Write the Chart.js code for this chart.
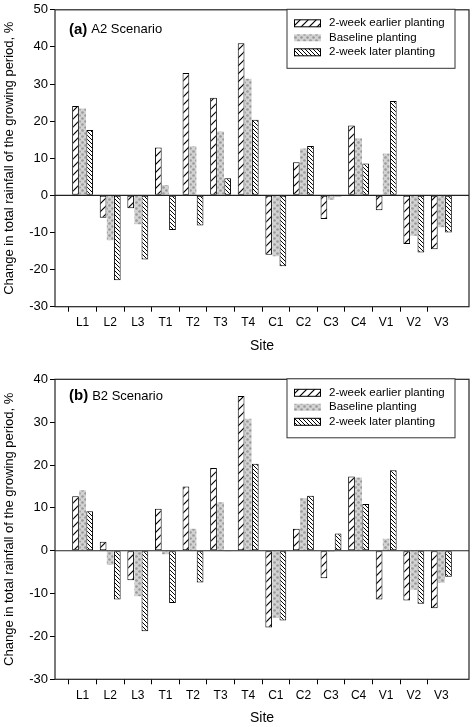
<!DOCTYPE html>
<html>
<head>
<meta charset="utf-8">
<script src="https://cdn.jsdelivr.net/npm/chart.js@4.4.1/dist/chart.umd.min.js"></script>
<style>
  body { margin: 0; background: #fff; }
  .wrap { position: absolute; left: 0; width: 473px; }
  #wrapA { top: 0; height: 360px; }
  #wrapB { top: 360px; height: 367px; }
</style>
</head>
<body>
<div class="wrap" id="wrapA"><canvas id="chartA" width="473" height="360"></canvas></div>
<div class="wrap" id="wrapB"><canvas id="chartB" width="473" height="367"></canvas></div>
<script>
"use strict";

// Data
const sites = ["L1", "L2", "L3", "T1", "T2", "T3", "T4", "C1", "C2", "C3", "C4", "V1", "V2", "V3"];
const seriesNames = ["2-week earlier planting", "Baseline planting", "2-week later planting"];

// (a) A2 scenario
const a2Earlier  = [24.1, -6.0, -3.5, 12.9, 33.0, 26.3, 41.0, -16.0, 8.9, -6.4, 18.8, -4.0, -13.1, -14.5];
const a2Baseline = [23.4, -12.1, -7.8, 2.8, 13.2, 17.2, 31.4, -16.4, 12.6, -1.2, 15.4, 11.3, -10.9, -8.6];
const a2Later    = [17.6, -22.9, -17.3, -9.3, -8.1, 4.6, 20.4, -19.1, 13.3, -0.3, 8.6, 25.4, -15.4, -10.0];

// (b) B2 scenario
const b2Earlier  = [12.7, 2.1, -6.9, 9.8, 15.0, 19.3, 36.1, -17.9, 5.1, -6.4, 17.3, -11.4, -11.6, -13.4];
const b2Baseline = [14.1, -3.3, -10.6, -0.8, 5.1, 11.3, 30.8, -15.7, 12.3, -0.3, 17.1, 2.8, -9.1, -7.5];
const b2Later    = [9.2, -11.4, -18.8, -12.2, -7.4, -0.2, 20.3, -16.3, 12.8, 4.0, 10.9, 18.8, -12.4, -6.1];

const yRangeA = [-30, 50];
const yRangeB = [-30, 40];

const FONT = "'Liberation Sans', Arial, sans-serif";

// Fill patterns
function hatch(size, forward, lw) {
    const c = document.createElement("canvas");
    c.width = size; c.height = size;
    const g = c.getContext("2d");
    g.fillStyle = "#fff";
    g.fillRect(0, 0, size, size);
    g.strokeStyle = "#000";
    g.lineWidth = lw;
    g.beginPath();
    if (forward) {
        g.moveTo(-1, size + 1); g.lineTo(size + 1, -1);
        g.moveTo(-1, 1); g.lineTo(1, -1);
        g.moveTo(size - 1, size + 1); g.lineTo(size + 1, size - 1);
    } else {
        g.moveTo(-1, -1); g.lineTo(size + 1, size + 1);
        g.moveTo(size - 1, -1); g.lineTo(size + 1, 1);
        g.moveTo(-1, size - 1); g.lineTo(1, size + 1);
    }
    g.stroke();
    return g.createPattern(c, "repeat");
}

function dots() {
    const c = document.createElement("canvas");
    c.width = 6; c.height = 6;
    const g = c.getContext("2d");
    g.fillStyle = "#d2d2d2";
    g.fillRect(0, 0, 6, 6);
    g.fillStyle = "#9a9a9a";
    g.beginPath(); g.arc(1.5, 1.5, 1.3, 0, Math.PI * 2); g.fill();
    g.beginPath(); g.arc(4.5, 4.5, 1.3, 0, Math.PI * 2); g.fill();
    return g.createPattern(c, "repeat");
}

const fills = [hatch(8, true, 1.2), dots(), hatch(4, false, 1)];

// Frame, zero line, panel title and legend box
const decor = {
    id: "decor",
    afterDatasetsDraw(chart, args, opts) {
        const { ctx, chartArea: a, scales } = chart;
        const y0 = scales.y.getPixelForValue(0);
        ctx.save();
        ctx.strokeStyle = "#222";
        ctx.lineWidth = 1.2;
        ctx.beginPath();
        ctx.moveTo(a.left, y0); ctx.lineTo(a.right, y0);
        ctx.stroke();
        ctx.strokeRect(a.left, a.top, a.right - a.left, a.bottom - a.top);

        // panel title
        ctx.fillStyle = "#000";
        ctx.textBaseline = "middle";
        ctx.textAlign = "left";
        ctx.font = "bold 15px " + FONT;
        ctx.fillText(opts.tag, 69, a.top + opts.titleOffset);
        const w = ctx.measureText(opts.tag).width;
        ctx.font = "13px " + FONT;
        ctx.fillText(opts.title, 69 + w + 4, a.top + opts.titleOffset);

        // legend
        const bx = 287, bw = 168, by = a.top - 0.5, bh = 59;
        ctx.fillStyle = "#fff";
        ctx.fillRect(bx, by, bw, bh);
        ctx.lineWidth = 1;
        ctx.strokeStyle = "#333";
        ctx.strokeRect(bx, by, bw, bh);
        chart.data.datasets.forEach((ds, i) => {
            const cy = by + 14 + i * 14.5;
            ctx.fillStyle = ds.backgroundColor;
            ctx.fillRect(294, cy - 3.5, 27, 7);
            if (ds.borderWidth) {
                ctx.strokeStyle = "#000";
                ctx.strokeRect(294.5, cy - 3.5, 26, 7);
            }
            ctx.fillStyle = "#000";
            ctx.font = "11.5px " + FONT;
            ctx.fillText(ds.label, 329, cy);
        });
        ctx.restore();
    }
};

function makeChart(id, values, range, tag, title, padTop, xHeight, titleOffset, titlePad) {
    const datasets = values.map((vals, i) => ({
        label: seriesNames[i],
        data: vals.map((v, k) => ({ x: k + 1, y: v })),
        backgroundColor: fills[i],
        borderColor: "#000",
        borderWidth: i === 1 ? 0 : 1,
        borderSkipped: false,
        categoryPercentage: 0.77,
        barPercentage: 0.95
    }));

    return new Chart(document.getElementById(id), {
        type: "bar",
        data: { datasets },
        plugins: [decor],
        options: {
            responsive: false,
            animation: false,
            layout: { padding: { top: padTop, right: 2, left: 0, bottom: 0 } },
            plugins: {
                legend: { display: false },
                tooltip: { enabled: false },
                decor: { tag, title, titleOffset }
            },
            scales: {
                x: {
                    type: "linear",
                    min: 0,
                    max: 15,
                    offset: false,
                    afterFit: s => { s.height = xHeight; },
                    grid: {
                        drawOnChartArea: false,
                        tickLength: 5,
                        tickColor: c => (c.tick && c.tick.value >= 1 && c.tick.value <= 14) ? "#000" : "rgba(0,0,0,0)"
                    },
                    border: { display: false },
                    ticks: {
                        stepSize: 1,
                        autoSkip: false,
                        maxRotation: 0,
                        padding: 4,
                        color: "#000",
                        font: { family: FONT, size: 12 },
                        callback: v => sites[v - 1] || ""
                    },
                    title: {
                        display: true,
                        text: "Site",
                        color: "#000",
                        font: { family: FONT, size: 14 },
                        padding: { top: 0, bottom: titlePad }
                    }
                },
                y: {
                    min: range[0],
                    max: range[1],
                    afterFit: s => { s.width = 55; },
                    grid: { drawOnChartArea: false, tickLength: 5, color: "#000" },
                    border: { display: false },
                    ticks: {
                        stepSize: 10,
                        padding: 2,
                        color: "#000",
                        font: { family: FONT, size: 13 }
                    },
                    title: {
                        display: true,
                        text: "Change in total rainfall of the growing period, %",
                        color: "#000",
                        font: { family: FONT, size: 13 },
                        padding: { top: 2, bottom: 0 }
                    }
                }
            }
        }
    });
}

makeChart("chartA", [a2Earlier, a2Baseline, a2Later], yRangeA, "(a)", "A2 Scenario", 6, 53.3, 20, 5.6);
makeChart("chartB", [b2Earlier, b2Baseline, b2Later], yRangeB, "(b)", "B2 Scenario", 19.3, 47.7, 17, 0);
</script>
</body>
</html>
